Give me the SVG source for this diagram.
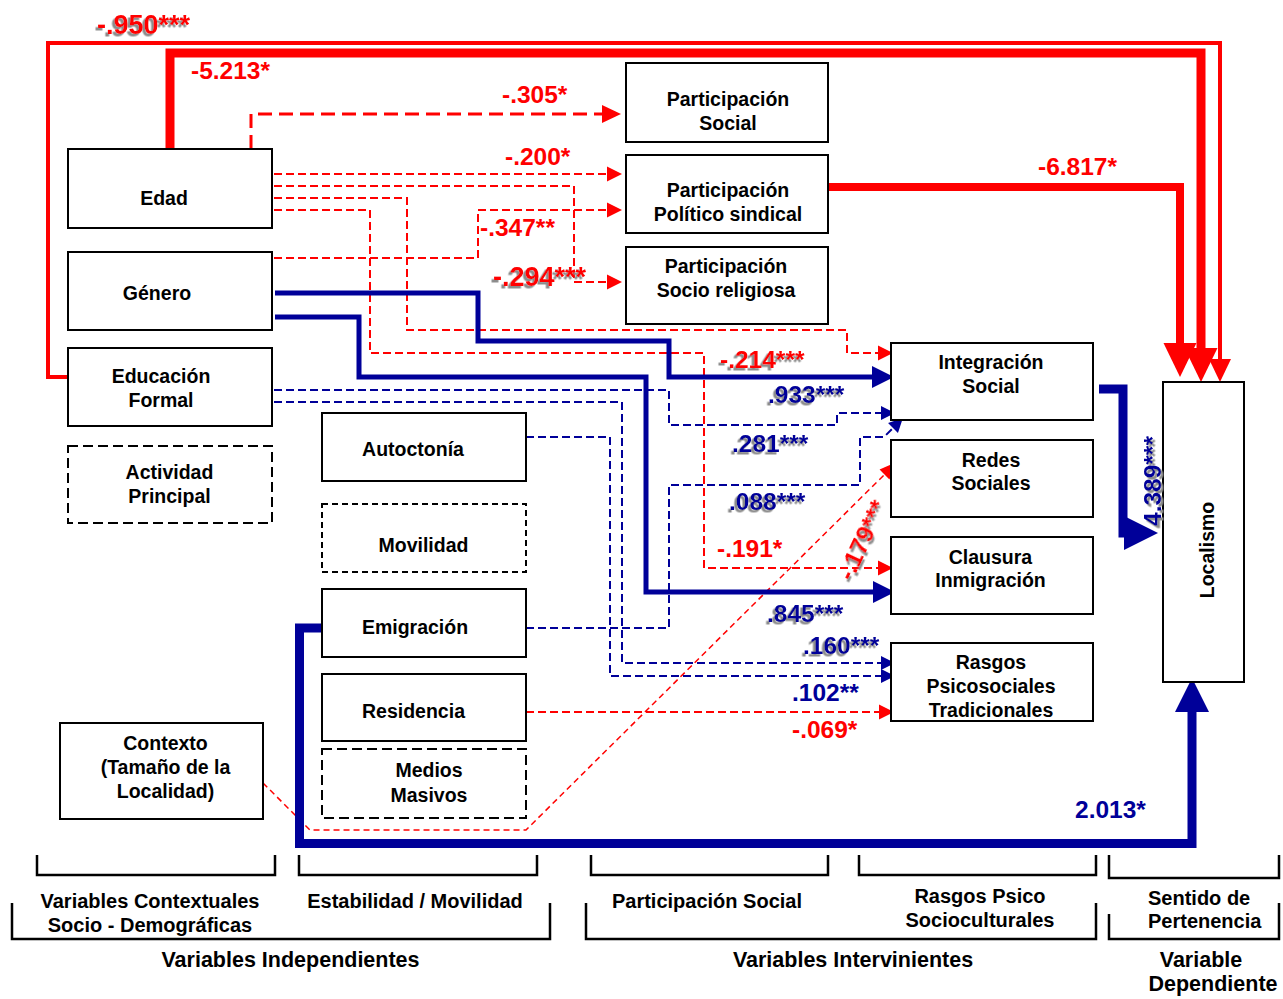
<svg xmlns="http://www.w3.org/2000/svg" width="1283" height="999" viewBox="0 0 1283 999">
<style>
.box{fill:#fff;stroke:#000;stroke-width:2}
.dbox{fill:#fff;stroke:#000;stroke-width:2;stroke-dasharray:10 5}
.dbox2{fill:#fff;stroke:#000;stroke-width:2;stroke-dasharray:6 4}
text{font-family:"Liberation Sans",Arial,Helvetica,sans-serif;font-weight:bold}
.nt{font-size:19.5px;text-anchor:middle;fill:#000}
.cat{font-size:20px;text-anchor:middle;fill:#000}
.big{font-size:21.5px;text-anchor:middle;fill:#000}
.lab{font-size:24.5px}
.xl{font-size:27px}
.r{fill:#f00}
.b{fill:#000099}
.sh{filter:url(#sh)}
.rt{fill:none;stroke:#f00;stroke-linejoin:miter}
.rd{fill:none;stroke:#f00;stroke-width:2;stroke-dasharray:8 4}
.rd3{fill:none;stroke:#f00;stroke-width:3;stroke-dasharray:14 7}
.rc{fill:none;stroke:#f00;stroke-width:1.5;stroke-dasharray:6 4}
.bd{fill:none;stroke:#000099;stroke-width:2;stroke-dasharray:8 4}
.bs{fill:none;stroke:#000099;stroke-width:5}
.bt{fill:none;stroke:#000099;stroke-width:9}
.br{fill:none;stroke:#000;stroke-width:2.5}
</style>
<defs>
<filter id="sh" x="-20%" y="-40%" width="140%" height="180%">
<feDropShadow dx="-2.5" dy="2.5" stdDeviation="0.3" flood-color="#8c8c8c" flood-opacity="1"/>
</filter>
<marker id="aR" markerUnits="userSpaceOnUse" markerWidth="16" markerHeight="16" refX="0" refY="7.5" orient="auto" overflow="visible"><path d="M0,0 L15,7.5 L0,15z" fill="#f00"/></marker>
<marker id="aR3" markerUnits="userSpaceOnUse" markerWidth="20" markerHeight="18" refX="0" refY="9" orient="auto" overflow="visible"><path d="M0,0 L19,9 L0,18z" fill="#f00"/></marker>
<marker id="aRc" markerUnits="userSpaceOnUse" markerWidth="18" markerHeight="14" refX="0" refY="7" orient="auto" overflow="visible"><path d="M0,0 L18,7 L0,14z" fill="#f00"/></marker>
<marker id="aRL" markerUnits="userSpaceOnUse" markerWidth="34" markerHeight="33" refX="0" refY="16.5" orient="auto" overflow="visible"><path d="M0,0 L34,16.5 L0,33z" fill="#f00"/></marker>
<marker id="aRS" markerUnits="userSpaceOnUse" markerWidth="23" markerHeight="22" refX="0" refY="11" orient="auto" overflow="visible"><path d="M0,0 L23,11 L0,22z" fill="#f00"/></marker>
<marker id="aB" markerUnits="userSpaceOnUse" markerWidth="22" markerHeight="22" refX="0" refY="11" orient="auto" overflow="visible"><path d="M0,0 L22,11 L0,22z" fill="#000099"/></marker>
<marker id="aBs" markerUnits="userSpaceOnUse" markerWidth="14" markerHeight="14" refX="0" refY="7" orient="auto" overflow="visible"><path d="M0,0 L14,7 L0,14z" fill="#000099"/></marker>
<marker id="aBL" markerUnits="userSpaceOnUse" markerWidth="34" markerHeight="34" refX="0" refY="17" orient="auto" overflow="visible"><path d="M0,0 L34,17 L0,34z" fill="#000099"/></marker>
</defs>
<rect x="0" y="0" width="1283" height="999" fill="#fff"/>

<g id="connectors">
<path class="rt" stroke-width="4" d="M68,377 H48 V43 H1220 V359" marker-end="url(#aRS)"/>
<path class="rt" stroke-width="9" d="M170,149 V53 H1201 V348" marker-end="url(#aRL)"/>
<path class="rt" stroke-width="8" d="M824,187 H1180 V343" marker-end="url(#aRL)"/>
<path class="rd3" d="M251,149 V114 H602" marker-end="url(#aR3)"/>
<path class="rd" d="M274,174 H607" marker-end="url(#aR)"/>
<path class="rd" d="M274,186 H574 V282 H607" marker-end="url(#aR)"/>
<path class="rd" d="M274,198 H407 V330 H847 V353 H878" marker-end="url(#aR)"/>
<path class="rd" d="M274,210 H370 V353 H704 V568 H878" marker-end="url(#aR)"/>
<path class="rd" d="M274,258 H478 V210 H607" marker-end="url(#aR)"/>
<path class="rd" d="M526,712 H879" marker-end="url(#aR)"/>
<path class="rc" d="M263,783 L310,830 H526 L884.5,474.5" marker-end="url(#aRc)"/>
<path class="bs" d="M275,293 H478 V341 H669 V377 H872" marker-end="url(#aB)"/>
<path class="bs" d="M275,317 H359 V377 H646 V592 H873" marker-end="url(#aB)"/>
<path class="bd" d="M274,390 H669 V425 H837 V413 H881" marker-end="url(#aBs)"/>
<path class="bd" d="M274,402 H622 V663 H881" marker-end="url(#aBs)"/>
<path class="bd" d="M526,437 H610 V676 H881" marker-end="url(#aBs)"/>
<path class="bd" d="M526,628 H669 V485 H860 V437 H884 L893,428" marker-end="url(#aBs)"/>
<path class="bt" d="M322,628 H299.5 V843.5 H1192 V712" marker-end="url(#aBL)"/>
<path class="bt" d="M1099,389 H1123 V533 H1124" marker-end="url(#aBL)"/>
</g>

<g id="n-edad"><rect class="box" x="68" y="149" width="204" height="79"/><text class="nt" x="164" y="205">Edad</text></g>
<g id="n-genero"><rect class="box" x="68" y="252" width="204" height="78"/><text class="nt" x="157" y="300">Género</text></g>
<g id="n-educacion"><rect class="box" x="68" y="348" width="204" height="78"/><text class="nt" x="161" y="383">Educación<tspan x="161" y="407">Formal</tspan></text></g>
<g id="n-actividad"><rect class="dbox" x="68" y="446" width="204" height="77"/><text class="nt" x="169.5" y="479">Actividad<tspan x="169.5" y="503">Principal</tspan></text></g>
<g id="n-contexto"><rect class="box" x="60" y="723" width="203" height="96"/><text class="nt" x="165.5" y="750">Contexto<tspan x="165.5" y="774">(Tamaño de la</tspan><tspan x="165.5" y="798">Localidad)</tspan></text></g>
<g id="n-autoctonia"><rect class="box" x="322" y="413" width="204" height="68"/><text class="nt" x="413" y="456">Autoctonía</text></g>
<g id="n-movilidad"><rect class="dbox2" x="322" y="504" width="204" height="68"/><text class="nt" x="423.5" y="552">Movilidad</text></g>
<g id="n-emigracion"><rect class="box" x="322" y="589" width="204" height="68"/><text class="nt" x="415" y="634">Emigración</text></g>
<g id="n-residencia"><rect class="box" x="322" y="674" width="204" height="67"/><text class="nt" x="413.5" y="718">Residencia</text></g>
<g id="n-medios"><rect class="dbox" x="322" y="749" width="204" height="69"/><text class="nt" x="429" y="777">Medios<tspan x="429" y="802">Masivos</tspan></text></g>
<g id="n-psocial"><rect class="box" x="626" y="63" width="202" height="79"/><text class="nt" x="728" y="106">Participación<tspan x="728" y="130">Social</tspan></text></g>
<g id="n-ppolitico"><rect class="box" x="626" y="155" width="202" height="78"/><text class="nt" x="728" y="197">Participación<tspan x="728" y="221">Político sindical</tspan></text></g>
<g id="n-preligiosa"><rect class="box" x="626" y="247" width="202" height="77"/><text class="nt" x="726" y="273">Participación<tspan x="726" y="297">Socio religiosa</tspan></text></g>
<g id="n-integracion"><rect class="box" x="891" y="343" width="202" height="77"/><text class="nt" x="991" y="369">Integración<tspan x="991" y="393">Social</tspan></text></g>
<g id="n-redes"><rect class="box" x="891" y="440" width="202" height="77"/><text class="nt" x="991" y="467">Redes<tspan x="991" y="490">Sociales</tspan></text></g>
<g id="n-clausura"><rect class="box" x="891" y="537" width="202" height="77"/><text class="nt" x="990.5" y="564">Clausura<tspan x="990.5" y="587">Inmigración</tspan></text></g>
<g id="n-rasgos"><rect class="box" x="891" y="643" width="202" height="78"/><text class="nt" x="991" y="669">Rasgos<tspan x="991" y="693">Psicosociales</tspan><tspan x="991" y="717">Tradicionales</tspan></text></g>
<g id="n-localismo"><rect class="box" x="1163" y="382" width="81" height="300"/><text class="nt" transform="translate(1214,550) rotate(-90)" x="0" y="0">Localismo</text></g>

<g id="labels">
<text class="lab xl r sh" x="97" y="34">-.950***</text>
<text class="lab r" x="191" y="79">-5.213*</text>
<text class="lab r" x="502" y="103">-.305*</text>
<text class="lab r" x="505" y="165">-.200*</text>
<text class="lab r" x="480" y="236">-.347**</text>
<text class="lab xl r sh" x="493" y="286">-.294***</text>
<text class="lab r" x="1038" y="175">-6.817*</text>
<text class="lab r sh" x="720" y="368">-.214***</text>
<text class="lab b sh" x="768" y="403">.933***</text>
<text class="lab b sh" x="732" y="452">.281***</text>
<text class="lab b sh" x="729" y="510">.088***</text>
<text class="lab r" x="717" y="557">-.191*</text>
<text class="lab r sh" transform="translate(852,582) rotate(-65)" x="0" y="0">-.179***</text>
<text class="lab b sh" x="767" y="622">.845***</text>
<text class="lab b sh" x="803" y="654">.160***</text>
<text class="lab b" x="792" y="701">.102**</text>
<text class="lab r" x="792" y="738">-.069*</text>
<text class="lab b" x="1075" y="818">2.013*</text>
<text class="lab b sh" transform="translate(1161,526) rotate(-90)" x="0" y="0">4.389***</text>
</g>

<g id="legend">
<path class="br" d="M37,855 V875 H275 V855"/>
<path class="br" d="M299,855 V875 H537 V855"/>
<path class="br" d="M591,855 V875 H828 V855"/>
<path class="br" d="M859,855 V875 H1096 V855"/>
<path class="br" d="M1109,855 V878 H1279 V855"/>
<path class="br" d="M12,903 V939 H550 V903"/>
<path class="br" d="M586,903 V939 H1096 V903"/>
<path class="br" d="M1109,914 V939 H1279 V903"/>
<text class="cat" x="150" y="908">Variables Contextuales<tspan x="150" y="932">Socio - Demográficas</tspan></text>
<text class="cat" x="415" y="908">Estabilidad / Movilidad</text>
<text class="cat" x="707" y="908">Participación Social</text>
<text class="cat" x="980" y="903">Rasgos Psico<tspan x="980" y="927">Socioculturales</tspan></text>
<text class="cat" x="1148" y="905" style="text-anchor:start">Sentido de<tspan x="1148" y="928">Pertenencia</tspan></text>
<text class="big" x="290.5" y="967">Variables Independientes</text>
<text class="big" x="853" y="967">Variables Intervinientes</text>
<text class="big" x="1201" y="967">Variable<tspan x="1213" y="991">Dependiente</tspan></text>
</g>
</svg>
